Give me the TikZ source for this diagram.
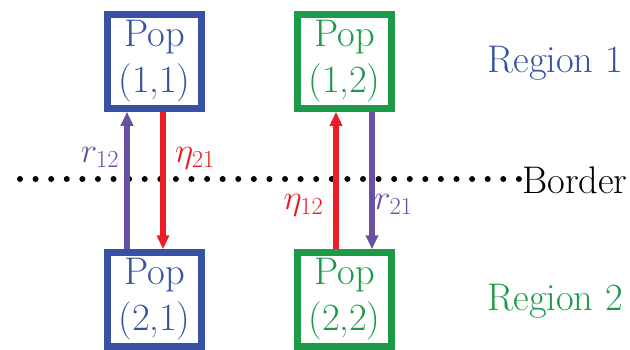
\documentclass[tikz,border=0pt]{standalone}
\usepackage{fix-cm}
\usetikzlibrary{arrows.meta}
\definecolor{cblue}{RGB}{55,82,164}
\definecolor{cgreen}{RGB}{29,154,72}
\definecolor{cred}{RGB}{236,28,36}
\definecolor{cpurple}{RGB}{104,81,163}
\tikzset{
  popbox/.style={draw, line width=6.5pt, minimum width=94pt, minimum height=94pt,
    inner sep=0pt, align=center, font=\fontsize{38.5}{46}\selectfont},
  arr/.style={line width=5.5pt, -{Triangle[width=12pt,length=14pt]}},
  lbl/.style={font=\fontsize{35}{42}\selectfont, inner sep=0pt, anchor=base},
  rlbl/.style={font=\fontsize{38.5}{46}\selectfont, inner sep=0pt, anchor=base west},
  dotline/.style={line width=6pt, line cap=round, dash pattern=on 0pt off 15.59pt}
}
\begin{document}
\begin{tikzpicture}[x=1pt,y=-1pt]
\useasboundingbox (0,0) rectangle (630,349);
\node[popbox, cblue] (tl) at (154.5,61.5) {Pop\\(1,1)};
\node[popbox, cgreen] (tr) at (344.5,61.5) {Pop\\(1,2)};
\node[popbox, cblue] (bl) at (154.5,299.5) {Pop\\(2,1)};
\node[popbox, cgreen] (br) at (344.5,299.5) {Pop\\(2,2)};
\coordinate (bL) at (20,179);
\coordinate (bR) at (519,179);
\draw[dotline] (bL) -- (bR);
\draw[arr, cpurple] ([xshift=-27.5pt]bl.north) -- ([xshift=-27.5pt]tl.south);
\draw[arr, cred] ([xshift=8.5pt]tl.south) -- ([xshift=8.5pt]bl.north);
\draw[arr, cred] ([xshift=-8.5pt]br.north) -- ([xshift=-8.5pt]tr.south);
\draw[arr, cpurple] ([xshift=27.5pt]tr.south) -- ([xshift=27.5pt]br.north);
\node[lbl, cpurple] (r12) at (100,162) {$r_{12}$};
\node[lbl, cred] (e21) at (195,162) {$\eta_{21}$};
\node[lbl, cred] (e12) at (303.5,209) {$\eta_{12}$};
\node[lbl, cpurple] (r21) at (393.5,209) {$r_{21}$};
\node[rlbl] (border) at (522,193) {Border};
\node[rlbl, cblue] (reg1) at (487,72) {Region 1};
\node[rlbl, cgreen] (reg2) at (487,310) {Region 2};
\end{tikzpicture}
\end{document}
